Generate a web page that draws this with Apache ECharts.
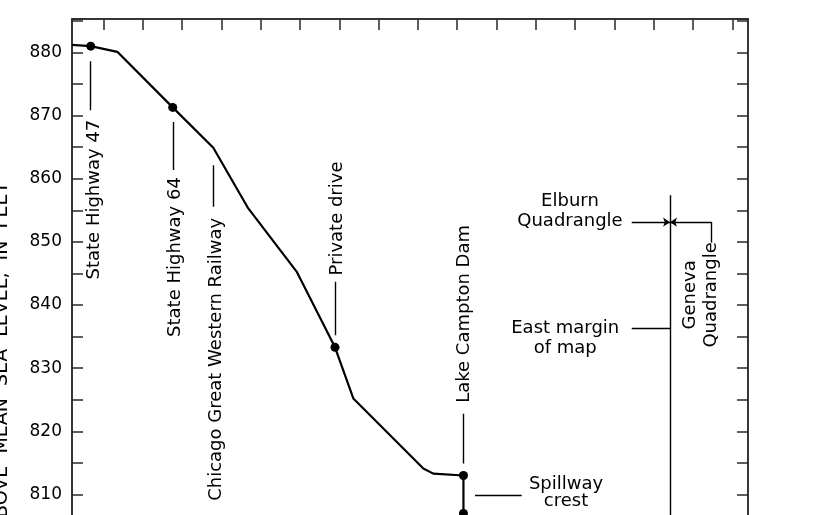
<!DOCTYPE html>
<html>
<head>
<meta charset="utf-8">
<script src="https://cdn.jsdelivr.net/npm/echarts@6/dist/echarts.min.js"></script>
<style>
  html, body { margin: 0; padding: 0; background: #ffffff; }
  #chart { width: 828px; height: 515px; }
</style>
</head>
<body>
<div id="chart"></div>
<script>
// ---- Data (distance in tick units, elevation in feet) ----
const profileDistance  = [0.2, 0.676, 1.353, 2.762, 3.795, 4.686, 5.925, 6.892, 7.358, 9.139, 9.393, 10.16, 10.16];
const profileElevation = [881.2, 881.0, 880.1, 871.3, 864.9, 855.3, 845.2, 833.3, 825.2, 814.1, 813.3, 813.0, 807.0];
const stationDistance  = [0.676, 2.762, 6.892, 10.16, 10.16];
const stationElevation = [881.0, 871.3, 833.3, 813.0, 807.0];

const yTickValues = [810, 820, 830, 840, 850, 860, 870, 880];
const topTickValues = [1, 2, 3, 4, 5, 6, 7, 8, 9, 10, 11, 12, 13, 14, 15, 16, 17];

const labelTexts     = ['State Highway 47', 'State Highway 64', 'Chicago Great Western Railway', 'Private drive', 'Lake Campton Dam', 'Spillway\ncrest', 'East margin\nof map', 'Elburn\nQuadrangle', 'Geneva\nQuadrangle'];
const labelDistance  = [0.76, 2.83, 3.86, 6.95, 10.18, 12.77, 12.75, 12.87, 16.21];
const labelElevation = [856.7, 847.6, 831.4, 853.7, 838.6, 810.2, 834.7, 854.9, 841.6];
const labelRotate    = [90, 90, 90, 90, 90, 0, 0, 0, 90];

// leader lines: [x1, y1, x2, y2]
const leaderX1 = [0.658, 2.77, 3.795, 6.892, 10.157, 10.454, 14.442, 15.416, 16.477];
const leaderY1 = [878.6, 869.0, 862.15, 843.7, 822.8, 809.9, 836.3, 857.4, 853.12];
const leaderX2 = [0.658, 2.77, 3.795, 6.892, 10.157, 11.642, 15.416, 15.416, 16.477];
const leaderY2 = [870.85, 861.4, 855.55, 835.2, 814.9, 809.9, 836.3, 800.0, 849.9];

// arrows: [x1, y1] -> [x2, y2]
const arrowX1 = [14.442, 16.477];
const arrowY1 = [853.12, 853.12];
const arrowX2 = [15.416, 15.416];
const arrowY2 = [853.12, 853.12];

const yAxisTitle = 'ELEVATION  ABOVE  MEAN  SEA  LEVEL,  IN  FEET';

// ---- Build ----
const FONT = 'DejaVu Sans';
const INK = '#000000';
const FRAME = '#2a2a2a';

const profileData = profileDistance.map((d, i) => [d, profileElevation[i]]);
const stationData = stationDistance.map((d, i) => [d, stationElevation[i]]);
const leaderData = leaderX1.map((x, i) => ({ coords: [[x, leaderY1[i]], [leaderX2[i], leaderY2[i]]] }));
const arrowData = arrowX1.map((x, i) => ({ coords: [[x, arrowY1[i]], [arrowX2[i], arrowY2[i]]] }));
const labelData = labelTexts.map((t, i) => ({
  value: [labelDistance[i], labelElevation[i]],
  label: {
    formatter: t,
    rotate: labelRotate[i],
    lineHeight: i === 5 ? 17 : (i === 8 ? 21 : 20)
  }
}));

const chart = echarts.init(document.getElementById('chart'), null, { renderer: 'canvas' });
const option = {
  backgroundColor: '#ffffff',
  animation: false,
  grid: {
    left: 72, top: 19, width: 676, height: 538.6,
    outerBoundsMode: 'none', containLabel: false,
    show: true, borderColor: FRAME, borderWidth: 1.5, backgroundColor: 'transparent'
  },
  xAxis: {
    type: 'value', position: 'top', min: 0.2, max: 17.4,
    axisLine: { show: true, lineStyle: { color: FRAME, width: 1.5 } },
    axisTick: { show: true, inside: true, length: 11, customValues: topTickValues, lineStyle: { color: FRAME, width: 1.5 } },
    axisLabel: { show: false },
    splitLine: { show: false }
  },
  yAxis: [
    {
      type: 'value', position: 'left', min: 800, max: 885.3, interval: 5,
      axisLine: { show: true, lineStyle: { color: FRAME, width: 1.5 } },
      axisTick: { show: true, inside: true, length: 11, lineStyle: { color: FRAME, width: 1.5 } },
      axisLabel: {
        show: true, margin: 10, color: INK, fontFamily: FONT, fontSize: 17,
        formatter: v => (yTickValues.indexOf(Math.round(v * 10) / 10) >= 0 ? String(v) : '')
      },
      splitLine: { show: false }
    },
    {
      type: 'value', position: 'right', min: 800, max: 885.3, interval: 5,
      axisLine: { show: true, lineStyle: { color: FRAME, width: 1.5 } },
      axisTick: { show: true, inside: true, length: 11, lineStyle: { color: FRAME, width: 1.5 } },
      axisLabel: { show: false },
      splitLine: { show: false }
    }
  ],
  graphic: [{
    type: 'text', x: 2, y: 182, rotation: Math.PI / 2, silent: true,
    style: { text: yAxisTitle, fill: INK, font: '19px "' + FONT + '"', textAlign: 'right', textVerticalAlign: 'middle' }
  }],
  series: [
    {
      type: 'line', data: profileData, symbol: 'none', silent: true,
      lineStyle: { color: INK, width: 2.2 }, clip: true, z: 3
    },
    {
      type: 'scatter', data: stationData, symbol: 'circle', symbolSize: 9, silent: true,
      itemStyle: { color: INK, opacity: 1 }, z: 4
    },
    {
      type: 'lines', coordinateSystem: 'cartesian2d', data: leaderData, silent: true,
      symbol: 'none', lineStyle: { color: INK, width: 1.4, opacity: 1, curveness: 0 }, z: 2
    },
    {
      type: 'lines', coordinateSystem: 'cartesian2d', data: arrowData, silent: true,
      symbol: ['none', 'arrow'], symbolSize: 7,
      lineStyle: { color: INK, width: 1.4, opacity: 1, curveness: 0 }, z: 2
    },
    {
      type: 'scatter', data: labelData, symbolSize: 0, silent: true, z: 5,
      itemStyle: { opacity: 1 },
      label: {
        show: true, position: 'inside', align: 'center', verticalAlign: 'middle',
        color: INK, fontFamily: FONT, fontSize: 18
      }
    }
  ]
};
chart.setOption(option);
</script>
</body>
</html>
